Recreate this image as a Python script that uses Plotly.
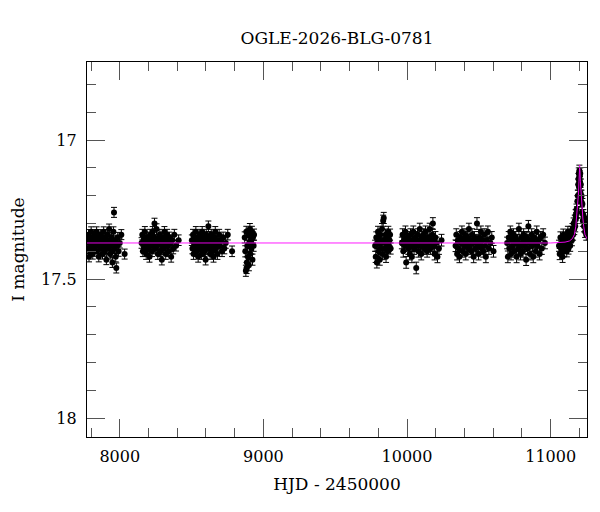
import plotly.graph_objects as go

# ---------------- data (HJD-2450000, I mag) ----------------
s1_t = [7775, 7779, 7783, 7786, 7790, 7794, 7797, 7801, 7805, 7809,
        7812, 7816, 7820, 7824, 7827, 7831, 7835, 7839, 7842, 7846,
        7850, 7854, 7858, 7861, 7865, 7869, 7873, 7876, 7880, 7884,
        7888, 7892, 7895, 7899, 7903, 7907, 7911, 7914, 7918, 7922,
        7926, 7930, 7933, 7937, 7941, 7945, 7949, 7952, 7956, 7960,
        7964, 7968, 7972, 7976, 7981, 7986, 7992, 8000, 8011, 8034]
s1_m = [17.36, 17.39, 17.34, 17.42, 17.37, 17.35, 17.40, 17.33, 17.38, 17.36,
        17.41, 17.35, 17.37, 17.39, 17.34, 17.36, 17.38, 17.33, 17.40, 17.37,
        17.35, 17.42, 17.36, 17.38, 17.34, 17.39, 17.37, 17.35, 17.41, 17.36,
        17.33, 17.38, 17.40, 17.35, 17.37, 17.43, 17.36, 17.34, 17.39, 17.37,
        17.32, 17.38, 17.41, 17.36, 17.35, 17.40, 17.44, 17.37, 17.33, 17.26,
        17.39, 17.36, 17.42, 17.46, 17.38, 17.35, 17.40, 17.37, 17.34, 17.41]

s2_t = [8152, 8157, 8161, 8166, 8170, 8175, 8179, 8184, 8188, 8193,
        8197, 8202, 8207, 8211, 8216, 8220, 8225, 8229, 8234, 8238,
        8242, 8247, 8251, 8256, 8260, 8265, 8270, 8274, 8279, 8283,
        8288, 8293, 8297, 8302, 8306, 8311, 8316, 8320, 8325, 8330,
        8335, 8340, 8346, 8352, 8358, 8365, 8372, 8380, 8392, 8410]
s2_m = [17.37, 17.34, 17.40, 17.36, 17.39, 17.33, 17.38, 17.41, 17.35, 17.37,
        17.39, 17.36, 17.42, 17.34, 17.38, 17.36, 17.40, 17.33, 17.37, 17.35,
        17.30, 17.39, 17.36, 17.32, 17.38, 17.41, 17.35, 17.37, 17.34, 17.40,
        17.36, 17.43, 17.38, 17.35, 17.39, 17.33, 17.37, 17.41, 17.36, 17.34,
        17.38, 17.40, 17.35, 17.37, 17.42, 17.36, 17.39, 17.34, 17.38, 17.36]

s3_t = [8502, 8506, 8510, 8514, 8518, 8522, 8526, 8530, 8534, 8538,
        8542, 8546, 8550, 8554, 8558, 8562, 8566, 8570, 8574, 8578,
        8582, 8586, 8590, 8594, 8598, 8602, 8606, 8610, 8614, 8617,
        8621, 8625, 8629, 8633, 8637, 8641, 8645, 8649, 8653, 8657,
        8661, 8665, 8670, 8675, 8680, 8686, 8692, 8698, 8705, 8712,
        8720, 8728, 8738, 8752, 8782]
s3_m = [17.36, 17.39, 17.34, 17.41, 17.37, 17.35, 17.38, 17.33, 17.40, 17.36,
        17.38, 17.42, 17.35, 17.37, 17.34, 17.39, 17.36, 17.41, 17.33, 17.38,
        17.37, 17.35, 17.40, 17.36, 17.43, 17.34, 17.38, 17.36, 17.39, 17.31,
        17.37, 17.35, 17.41, 17.38, 17.34, 17.36, 17.40, 17.37, 17.42, 17.35,
        17.38, 17.33, 17.39, 17.36, 17.41, 17.37, 17.34, 17.38, 17.36, 17.40,
        17.35, 17.39, 17.37, 17.34, 17.40]

s4_t = [8870, 8874, 8878, 8881, 8885, 8888, 8892, 8895, 8899, 8902,
        8906, 8909, 8913, 8916, 8920, 8924, 8928, 8932, 8935, 8883]
s4_m = [17.35, 17.40, 17.47, 17.33, 17.44, 17.38, 17.42, 17.34, 17.45, 17.37,
        17.32, 17.41, 17.36, 17.39, 17.33, 17.43, 17.35, 17.38, 17.34, 17.46]

s5_t = [9778, 9782, 9786, 9790, 9794, 9798, 9802, 9806, 9810, 9814,
        9818, 9822, 9826, 9830, 9834, 9838, 9842, 9846, 9850, 9854,
        9858, 9862, 9866, 9870, 9874, 9878, 9882, 9886]
s5_m = [17.38, 17.42, 17.35, 17.44, 17.37, 17.33, 17.40, 17.36, 17.43, 17.34,
        17.39, 17.37, 17.32, 17.41, 17.29, 17.28, 17.36, 17.39, 17.34, 17.42,
        17.37, 17.35, 17.40, 17.33, 17.38, 17.36, 17.34, 17.39]

s6_t = [9964, 9969, 9974, 9979, 9984, 9989, 9994, 9999, 10004, 10009,
        10014, 10019, 10024, 10029, 10034, 10039, 10044, 10049, 10054, 10059,
        10064, 10069, 10074, 10079, 10084, 10089, 10094, 10099, 10104, 10109,
        10114, 10119, 10124, 10129, 10134, 10140, 10146, 10152, 10158, 10164,
        10170, 10176, 10180, 10186, 10192, 10198, 10205, 10212, 10222, 10240]
s6_m = [17.37, 17.34, 17.40, 17.36, 17.38, 17.33, 17.44, 17.37, 17.35, 17.39,
        17.36, 17.41, 17.34, 17.38, 17.42, 17.36, 17.33, 17.39, 17.37, 17.35,
        17.46, 17.38, 17.34, 17.40, 17.36, 17.32, 17.38, 17.41, 17.35, 17.37,
        17.34, 17.39, 17.36, 17.33, 17.38, 17.40, 17.35, 17.37, 17.32, 17.39,
        17.36, 17.34, 17.30, 17.38, 17.41, 17.35, 17.37, 17.42, 17.39, 17.36]

s7_t = [10338, 10343, 10349, 10354, 10360, 10365, 10371, 10376, 10382, 10387,
        10393, 10398, 10404, 10409, 10415, 10420, 10426, 10431, 10437, 10442,
        10448, 10453, 10459, 10464, 10470, 10475, 10481, 10487, 10492, 10498,
        10503, 10509, 10514, 10520, 10525, 10531, 10537, 10543, 10549, 10556,
        10563, 10570, 10580, 10590, 10602]
s7_m = [17.38, 17.34, 17.41, 17.36, 17.39, 17.42, 17.35, 17.37, 17.33, 17.40,
        17.36, 17.38, 17.34, 17.41, 17.37, 17.35, 17.39, 17.32, 17.38, 17.36,
        17.40, 17.34, 17.37, 17.42, 17.35, 17.39, 17.36, 17.30, 17.38, 17.41,
        17.35, 17.37, 17.33, 17.39, 17.36, 17.40, 17.34, 17.38, 17.42, 17.36,
        17.33, 17.39, 17.37, 17.35, 17.40]

s8_t = [10697, 10702, 10708, 10713, 10719, 10724, 10730, 10735, 10741, 10746,
        10752, 10757, 10763, 10768, 10774, 10779, 10785, 10790, 10796, 10801,
        10807, 10812, 10818, 10823, 10829, 10834, 10840, 10845, 10851, 10856,
        10862, 10868, 10873, 10879, 10885, 10891, 10897, 10903, 10909, 10916,
        10923, 10930, 10938, 10948, 10960]
s8_m = [17.37, 17.42, 17.35, 17.39, 17.33, 17.41, 17.36, 17.38, 17.34, 17.40,
        17.37, 17.35, 17.42, 17.36, 17.39, 17.32, 17.38, 17.41, 17.35, 17.37,
        17.40, 17.34, 17.38, 17.36, 17.43, 17.35, 17.39, 17.31, 17.37, 17.41,
        17.36, 17.34, 17.38, 17.42, 17.35, 17.37, 17.40, 17.33, 17.38, 17.36,
        17.41, 17.35, 17.39, 17.34, 17.37]

s9_t = [11058, 11063, 11068, 11073, 11078, 11083, 11088, 11093, 11098, 11103,
        11108, 11112, 11116, 11120, 11124, 11128, 11132, 11136, 11140, 11144,
        11148, 11152, 11156, 11160, 11164, 11168, 11171, 11174, 11177, 11180,
        11183, 11186, 11189, 11192, 11194, 11196, 11198, 11200, 11202, 11204,
        11206, 11208, 11210, 11212, 11215, 11218, 11221, 11224, 11228, 11232,
        11236, 11240, 11244, 11248, 11251]
s9_m = [17.38, 17.41, 17.35, 17.39, 17.37, 17.42, 17.34, 17.40, 17.36, 17.38,
        17.35, 17.40, 17.37, 17.33, 17.39, 17.36, 17.34, 17.38, 17.35, 17.33,
        17.36, 17.32, 17.34, 17.30, 17.32, 17.29, 17.31, 17.27, 17.28, 17.25,
        17.26, 17.22, 17.20, 17.16, 17.14, 17.12, 17.17, 17.11, 17.13, 17.15,
        17.12, 17.19, 17.16, 17.22, 17.20, 17.26, 17.23, 17.29, 17.27, 17.31,
        17.28, 17.33, 17.30, 17.34, 17.32]

season_t = [s1_t, s2_t, s3_t, s4_t, s5_t, s6_t, s7_t, s8_t, s9_t]
season_m = [s1_m, s2_m, s3_m, s4_m, s5_m, s6_m, s7_m, s8_m, s9_m]
season_err = [0.018, 0.019, 0.019, 0.020, 0.020, 0.021, 0.021, 0.021, 0.020]

# microlensing model curve
model_t = [7772, 11000, 11100, 11130, 11150, 11165, 11175, 11181, 11186, 11190,
           11194, 11197, 11200, 11202, 11204, 11207, 11211, 11215, 11219, 11224,
           11230, 11239, 11253]
model_m = [17.37, 17.37, 17.367, 17.363, 17.355, 17.34, 17.31, 17.28, 17.245, 17.22,
           17.19, 17.15, 17.11, 17.09, 17.11, 17.15, 17.19, 17.22, 17.245, 17.28,
           17.31, 17.34, 17.355]

title_text = "OGLE-2026-BLG-0781"
x_label = "HJD - 2450000"
y_label = "I magnitude"

# ---------------- build ----------------
xs, ys, es = [], [], []
for t, m, e in zip(season_t, season_m, season_err):
    n = min(len(t), len(m))
    xs += t[:n]
    ys += m[:n]
    es += [e] * n

FONT = "DejaVu Serif"
TICKC = "#555555"

fig = go.Figure()
fig.add_trace(go.Scatter(
    x=xs, y=ys, mode="markers",
    marker=dict(color="black", size=6),
    error_y=dict(type="data", array=es, visible=True, color="black",
                 thickness=1, width=3),
    showlegend=False, hoverinfo="skip"))
fig.add_trace(go.Scatter(
    x=model_t, y=model_m, mode="lines",
    line=dict(color="#ff00ff", width=0.9),
    showlegend=False, hoverinfo="skip"))

axis_common = dict(
    showgrid=False, zeroline=False,
    showline=True, linecolor="black", linewidth=1.3,
    mirror="allticks", ticks="inside", ticklen=18, tickwidth=1.3,
    tickcolor=TICKC,
    tickfont=dict(family=FONT, size=16, color="black"),
)

fig.update_xaxes(
    **axis_common,
    range=[7772, 11253], tick0=0, dtick=1000, tickformat="d",
    minor=dict(dtick=200, tick0=0, ticks="inside", ticklen=9,
               tickwidth=1.3, tickcolor=TICKC),
    ticklabelstandoff=5,
    title=dict(text=x_label, font=dict(family=FONT, size=17, color="black"),
               standoff=12),
)
fig.update_yaxes(
    **axis_common,
    range=[18.068, 16.719], tick0=0, dtick=0.5,
    minor=dict(dtick=0.1, tick0=0, ticks="inside", ticklen=9,
               tickwidth=1.3, tickcolor=TICKC),
    ticklabelstandoff=6,
    title=dict(text=y_label, font=dict(family=FONT, size=17, color="black"),
               standoff=12),
)

# the page body adds an 8px offset at top/left; size the figure so the
# frame lands at x 87..587, y 62..437 of the 600x512 window
fig.update_layout(
    width=592, height=504,
    margin=dict(l=79, r=13, t=54, b=75, autoexpand=False),
    paper_bgcolor="white", plot_bgcolor="white",
    title=dict(text=title_text, x=(79 + 250) / 592, xanchor="center",
               y=1 - 30 / 504, yanchor="middle", yref="container",
               font=dict(family=FONT, size=17, color="black")),
)

fig.write_html("out.html")
